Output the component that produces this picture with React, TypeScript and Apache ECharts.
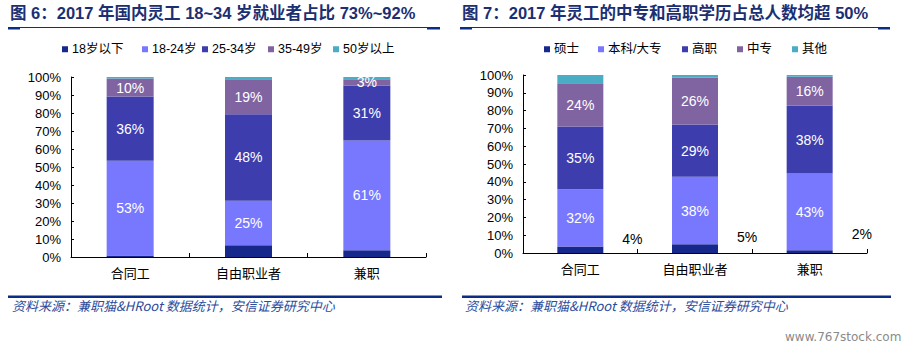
import React, { useEffect, useRef } from "react";
import * as echarts from "echarts";

const categories = ["合同工", "自由职业者", "兼职"];

const ageNames = ["18岁以下", "18-24岁", "25-34岁", "35-49岁", "50岁以上"];
const under18 = [0.9, 6.5, 3.7];
const age18to24 = [52.6, 24.8, 61.0];
const age25to34 = [35.6, 48.0, 30.6];
const age35to49 = [10.1, 19.4, 3.4];
const over50 = [0.8, 1.3, 1.3];

const eduNames = ["硕士", "本科/大专", "高职", "中专", "其他"];
const master = [3.6, 4.9, 1.6];
const bachelor = [32.2, 37.9, 43.1];
const vocational = [35.2, 29.4, 38.0];
const secondary = [24.4, 26.2, 16.3];
const other = [4.6, 1.6, 1.0];

const yTicks = [0, 10, 20, 30, 40, 50, 60, 70, 80, 90, 100];

const title6 = "图 6：2017 年国内灵工 18~34 岁就业者占比 73%~92%";
const title7 = "图 7：2017 年灵工的中专和高职学历占总人数均超 50%";
const sourceText = "资料来源：兼职猫&HRoot 数据统计，安信证券研究中心";
const watermark = "www.767stock.com";

const COLORS = ["#17288C", "#7878FF", "#3D3DAE", "#8064A2", "#4BACC6"];
const FONT = "'Liberation Sans', Arial, 'Noto Sans CJK SC', sans-serif";
const NAVY = "#0B2D85";

const masterLabelOffsets = [-11, -12, -18];

export default function App() {
  const ref = useRef<HTMLDivElement>(null);
  useEffect(() => {
    if (!ref.current) return;
    const chart = echarts.init(ref.current, undefined, { renderer: "svg" });

    const fmt = (p: any) => Math.round(p.value) + "%";
    const whiteLabel = { show: true, color: "#fff", fontSize: 14, fontFamily: FONT, formatter: fmt };

    const mkYAxis = (gridIndex: number) => ({
      type: "value",
      gridIndex,
      min: yTicks[0],
      max: yTicks[yTicks.length - 1],
      interval: 10,
      axisLine: { show: true, lineStyle: { color: "#000", width: 1 } },
      axisTick: { show: true, inside: true, length: 3, lineStyle: { color: "#000" } },
      axisLabel: { formatter: "{value}%", color: "#000", fontSize: 13, fontFamily: FONT, margin: 10 },
      splitLine: { show: false },
    });
    const mkXAxis = (gridIndex: number) => ({
      type: "category",
      gridIndex,
      data: categories,
      axisLine: { show: true, lineStyle: { color: "#000", width: 1 } },
      axisTick: { show: true, inside: true, length: 4, lineStyle: { color: "#000" } },
      axisLabel: { color: "#000", fontSize: 13, fontFamily: "'Noto Sans CJK SC', sans-serif", margin: 9 },
    });

    const ageData = [under18, age18to24, age25to34, age35to49, over50];
    const eduData = [master, bachelor, vocational, secondary, other];

    const leftSeries = ageNames.map((name, i) => ({
      name,
      type: "bar",
      stack: "age",
      xAxisIndex: 0,
      yAxisIndex: 0,
      barWidth: 47,
      data: ageData[i],
      itemStyle: { color: COLORS[i] },
      label: i >= 1 && i <= 3 ? whiteLabel : { show: false },
    }));

    const rightSeries = eduNames.map((name, i) => ({
      name,
      type: "bar",
      stack: "edu",
      xAxisIndex: 1,
      yAxisIndex: 1,
      barWidth: 46,
      data:
        i === 0
          ? eduData[i].map((v, k) => ({
              value: v,
              label: { offset: [0, masterLabelOffsets[k]] },
            }))
          : eduData[i],
      itemStyle: { color: COLORS[i] },
      label:
        i === 0
          ? { show: true, position: "right", distance: 19, color: "#000", fontSize: 14, fontFamily: FONT, formatter: fmt }
          : i <= 3
          ? whiteLabel
          : { show: false },
    }));

    const leftLegendX = [62, 142, 202, 268, 333];
    const rightLegendX = [544, 598, 682, 737, 792];
    const legendText = { color: "#000", fontSize: 12.5, fontFamily: FONT, padding: [0, 0, 0, -1] };
    const legends: any[] = [];
    ageNames.forEach((n, i) =>
      legends.push({
        data: [n], left: leftLegendX[i], top: 43, padding: 0,
        itemWidth: 6, itemHeight: 6, icon: "rect", textStyle: legendText,
      })
    );
    eduNames.forEach((n, i) =>
      legends.push({
        data: [n], left: rightLegendX[i], top: 43, padding: 0,
        itemWidth: 6, itemHeight: 6, icon: "rect", textStyle: legendText,
      })
    );

    const titleStyle = { fontSize: 16.5, fontWeight: "bold", fill: "#1B2F72", fontFamily: FONT };
    const srcStyle = { fontSize: 13, fontStyle: "italic", fill: "#2C4C9C", fontFamily: "'Noto Sans CJK SC', sans-serif" };

    const graphic: any[] = [
      { type: "text", left: 10, top: 5, style: { text: title6, ...titleStyle } },
      { type: "text", left: 462, top: 5, style: { text: title7, ...titleStyle } },
      { type: "line", shape: { x1: 8, y1: 27.5, x2: 440, y2: 27.5 }, style: { stroke: NAVY, lineWidth: 1 } },
      { type: "rect", shape: { x: 8, y: 27, width: 12, height: 2.5 }, style: { fill: NAVY } },
      { type: "rect", shape: { x: 427, y: 27, width: 13, height: 2.5 }, style: { fill: NAVY } },
      { type: "line", shape: { x1: 460, y1: 27.5, x2: 890, y2: 27.5 }, style: { stroke: NAVY, lineWidth: 1 } },
      { type: "rect", shape: { x: 460, y: 27, width: 12, height: 2.5 }, style: { fill: NAVY } },
      { type: "rect", shape: { x: 878, y: 27, width: 12, height: 2.5 }, style: { fill: NAVY } },
      { type: "rect", shape: { x: 8, y: 295.5, width: 434, height: 2.5 }, style: { fill: NAVY } },
      { type: "rect", shape: { x: 462, y: 295.5, width: 429, height: 2.5 }, style: { fill: NAVY } },
      { type: "text", left: 12, top: 299, style: { text: sourceText, ...srcStyle } },
      { type: "text", left: 465, top: 299, style: { text: sourceText, ...srcStyle } },
      { type: "text", left: 785, top: 331, style: { text: watermark, fontSize: 12, fill: "#8a8a8a", fontFamily: "'DejaVu Sans', sans-serif" } },
    ];

    chart.setOption({
      animation: false,
      backgroundColor: "#fff",
      grid: [
        { left: 71, top: 77, width: 355, height: 180 },
        { left: 523, top: 75, width: 344, height: 178 },
      ],
      legend: legends,
      xAxis: [mkXAxis(0), mkXAxis(1)],
      yAxis: [mkYAxis(0), mkYAxis(1)],
      series: [...leftSeries, ...rightSeries],
      graphic,
    });
    return () => chart.dispose();
  }, []);
  return (
    <div
      ref={ref}
      style={{ position: "absolute", left: 0, top: 0, width: 901, height: 351 }}
    />
  );
}
